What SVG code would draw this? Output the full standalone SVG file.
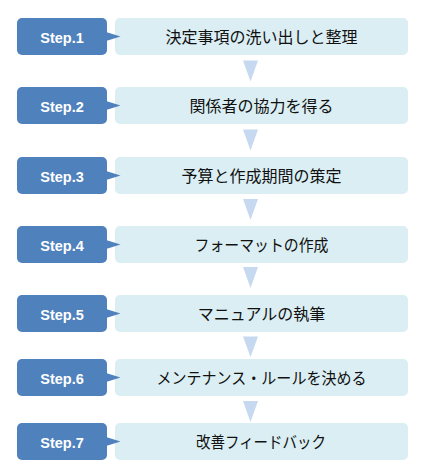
<svg xmlns="http://www.w3.org/2000/svg" width="422" height="475" viewBox="0 0 422 475">
<style>
.step{fill:#4F81BD}
.lbl{fill:#DAEEF3}
.st{font-family:"Liberation Sans",Arial,sans-serif;font-weight:bold;font-size:14.5px;fill:#FFFFFF;text-anchor:middle}
.jp{font-family:"Noto Sans CJK JP","Noto Sans CJK SC",sans-serif;font-size:16px;fill:#111111;text-anchor:middle}
.arr{fill:#C6D9F0}
</style>
<defs>
<g id="row">
<rect class="lbl" x="115" y="0" width="293" height="37" rx="5"/>
<rect class="step" x="17" y="0" width="90" height="37" rx="5"/>
<polygon class="step" points="106,14 120.5,18.5 106,23"/>
</g>
</defs>
<rect width="422" height="475" fill="#FFFFFF"/>
<g id="connectors">
<polygon class="arr" points="243,60.5 258,60.5 250.5,81.5"/>
<polygon class="arr" points="243,129.5 258,129.5 250.5,150.5"/>
<polygon class="arr" points="243,199 258,199 250.5,220"/>
<polygon class="arr" points="243,267 258,267 250.5,288"/>
<polygon class="arr" points="243,336.5 258,336.5 250.5,357"/>
<polygon class="arr" points="243,401 258,401 250.5,422"/>
</g>
<g id="step1"><use href="#row" y="18"/><text class="st" x="62" y="42.5">Step.1</text><text class="jp" x="261.5" y="43">決定事項の洗い出しと整理</text></g>
<g id="step2"><use href="#row" y="87"/><text class="st" x="62" y="111.5">Step.2</text><text class="jp" x="261.5" y="112">関係者の協力を得る</text></g>
<g id="step3"><use href="#row" y="157"/><text class="st" x="62" y="181.5">Step.3</text><text class="jp" x="261.5" y="182">予算と作成期間の策定</text></g>
<g id="step4"><use href="#row" y="226"/><text class="st" x="62" y="250.5">Step.4</text><text class="jp" x="261.5" y="251" textLength="134" lengthAdjust="spacingAndGlyphs">フォーマットの作成</text></g>
<g id="step5"><use href="#row" y="295"/><text class="st" x="62" y="319.5">Step.5</text><text class="jp" x="261.5" y="320">マニュアルの執筆</text></g>
<g id="step6"><use href="#row" y="359"/><text class="st" x="62" y="383.5">Step.6</text><text class="jp" x="261.5" y="384" textLength="210" lengthAdjust="spacingAndGlyphs">メンテナンス・ルールを決める</text></g>
<g id="step7"><use href="#row" y="423"/><text class="st" x="62" y="447.5">Step.7</text><text class="jp" x="261" y="448" textLength="130" lengthAdjust="spacingAndGlyphs">改善フィードバック</text></g>
</svg>
